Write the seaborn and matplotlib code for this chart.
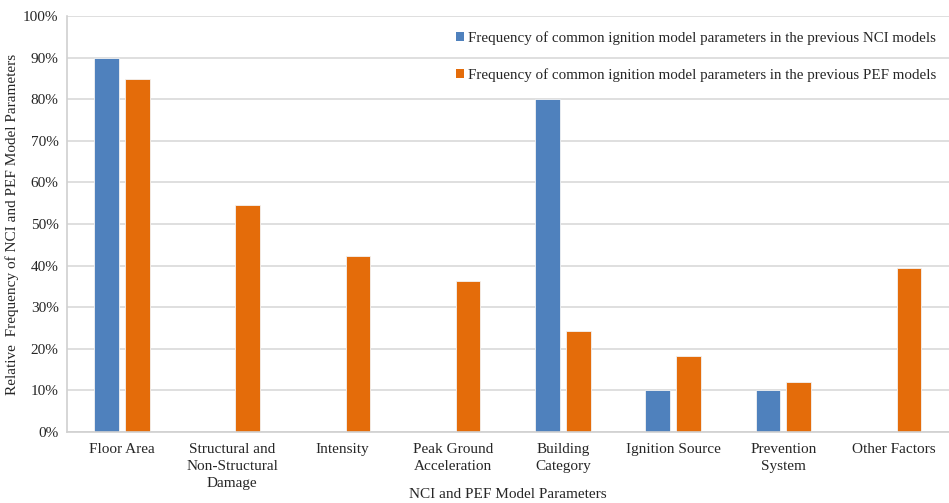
import matplotlib
matplotlib.use("Agg")
import matplotlib.pyplot as plt
import seaborn as sns
import pandas as pd
from matplotlib.ticker import PercentFormatter
from matplotlib.patches import Patch

categories = [
    "Floor Area",
    "Structural and\nNon-Structural\nDamage",
    "Intensity",
    "Peak Ground\nAcceleration",
    "Building\nCategory",
    "Ignition Source",
    "Prevention\nSystem",
    "Other Factors",
]
nci_freq = [90, 0, 0, 0, 80, 10, 10, 0]
pef_freq = [84.8, 54.5, 42.4, 36.4, 24.2, 18.2, 12.1, 39.4]
series_names = [
    "Frequency of common ignition model parameters in the previous NCI models",
    "Frequency of common ignition model parameters in the previous PEF models",
]
colors = ["#4F81BD", "#E46C0A"]

df = pd.DataFrame({
    "category": categories * 2,
    "value": nci_freq + pef_freq,
    "series": [series_names[0]] * len(categories) + [series_names[1]] * len(categories),
})

sns.set_theme(style="white")
plt.rcParams["font.family"] = ["Liberation Serif", "DejaVu Serif"]

fig = plt.figure(figsize=(9.49, 5.03), dpi=100)
ax = fig.add_axes([0.0706, 0.1412, 0.929, 0.8270])

sns.barplot(
    data=df, x="category", y="value", hue="series",
    palette=colors, saturation=1, width=0.56, gap=0.2, ax=ax,
    linewidth=0.6, edgecolor="#f3f3f3", legend=False,
)

ax.set_ylim(0, 100)
ax.set_xlim(-0.5, len(categories) - 0.5)
ax.set_yticks(range(0, 101, 10))
ax.yaxis.set_major_formatter(PercentFormatter(decimals=0))
ax.grid(axis="y", color="#d9d9d9", linewidth=1.2)
ax.set_axisbelow(True)
for side in ["top", "right"]:
    ax.spines[side].set_visible(False)
for side in ["left", "bottom"]:
    ax.spines[side].set_color("#d0d0d0")
    ax.spines[side].set_linewidth(1.2)
ax.tick_params(axis="both", labelsize=11, length=0, pad=6)
ax.tick_params(axis="x", pad=8)
ax.set_xticks(range(len(categories)))
ax.set_xticklabels(categories, linespacing=1.38, color="#262626", fontsize=11)
for lbl in ax.get_yticklabels():
    lbl.set_color("#262626")

ax.set_xlabel("NCI and PEF Model Parameters", fontsize=11, color="#262626")
ax.xaxis.set_label_coords(0.5, -0.134)
ax.set_ylabel("Relative  Frequency of NCI and PEF Model Parameters", fontsize=11,
              color="#262626")
ax.yaxis.set_label_coords(-0.0545, 0.5)

handles = [Patch(facecolor=c, edgecolor="none") for c in colors]
leg = ax.legend(
    handles, series_names, loc="upper left", bbox_to_anchor=(0.434, 0.978),
    frameon=False, fontsize=10.8, handlelength=0.55, handleheight=0.55,
    handletextpad=0.3, labelspacing=1.53, borderaxespad=0,
)
for t in leg.get_texts():
    t.set_color("#262626")

fig.savefig("out.png", dpi=100)
